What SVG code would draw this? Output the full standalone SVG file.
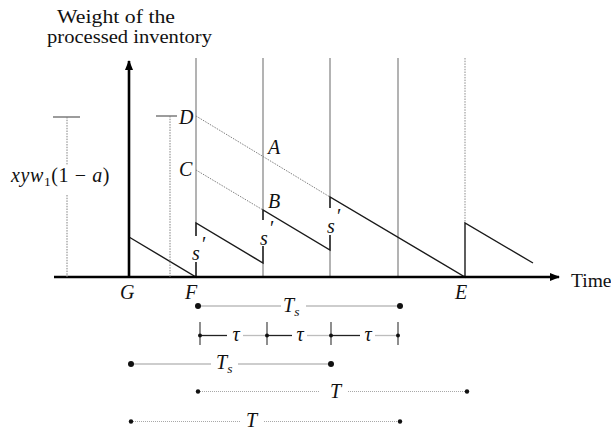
<svg xmlns="http://www.w3.org/2000/svg" width="611" height="430" viewBox="0 0 611 430">
<defs>
<marker id="arr" viewBox="0 0 10 8" refX="9" refY="4" markerWidth="10" markerHeight="8" markerUnits="userSpaceOnUse" orient="auto">
<path d="M0,0 L10,4 L0,8 Z" fill="#000"/>
</marker>
<style>
.axis{stroke:#000;stroke-width:2.6;fill:none}
.grid{stroke:#8a8a8a;stroke-width:1.3;fill:none}
.gridd{stroke:#8a8a8a;stroke-width:1;stroke-dasharray:1.5 1.2;fill:none}
.saw{stroke:#1a1a1a;stroke-width:1.4;fill:none}
.dl{stroke:#808080;stroke-width:1;stroke-dasharray:1.5 1.2;fill:none}
.tick{stroke:#666;stroke-width:1.3;fill:none}
.dim{stroke:#bdbdbd;stroke-width:1.3;fill:none}
.dimd{stroke:#a8a8a8;stroke-width:1;stroke-dasharray:1 1;fill:none}
.blk{stroke:#222;stroke-width:1.3;fill:none}
.vt{stroke:#444;stroke-width:1.2;fill:none}
.m{font-family:"Liberation Serif","DejaVu Serif",serif;font-style:italic;font-size:20px;fill:#111}
.r{font-family:"Liberation Serif","DejaVu Serif",serif;font-size:19.5px;fill:#111}
.sub{font-size:13.5px}
</style>
</defs>
<rect width="611" height="430" fill="#fff"/>

<g id="title">
<text class="r" x="57" y="23" textLength="118" lengthAdjust="spacingAndGlyphs">Weight of the</text>
<text class="r" x="47" y="43" textLength="165" lengthAdjust="spacingAndGlyphs">processed inventory</text>
</g>

<g id="grid">
<line class="grid" x1="196" y1="58" x2="196" y2="277"/>
<line class="grid" x1="263" y1="58" x2="263" y2="277"/>
<line class="grid" x1="330" y1="58" x2="330" y2="277"/>
<line class="grid" x1="398" y1="58" x2="398" y2="277"/>
<line class="gridd" x1="465" y1="58" x2="465" y2="223"/>
</g>

<g id="dotted-paths">
<line class="dl" x1="196" y1="116" x2="330" y2="197"/>
<line class="dl" x1="196" y1="170" x2="263" y2="210"/>
</g>

<g id="sawtooth">
<polyline class="saw" points="129,237 196,277 196,223 263,263 263,210 330,250 330,197 465,277 465,223 533,263"/>
</g>

<g id="s-labels">
<rect x="189" y="236" width="17" height="26" fill="#fff"/>
<rect x="256" y="220" width="18" height="26" fill="#fff"/>
<rect x="323" y="208" width="18" height="27" fill="#fff"/>
<text class="m" x="196" y="260" text-anchor="middle">s</text>
<text class="m" x="203" y="251" text-anchor="middle">′</text>
<text class="m" x="264" y="245" text-anchor="middle">s</text>
<text class="m" x="271" y="235" text-anchor="middle">′</text>
<text class="m" x="331" y="233" text-anchor="middle">s</text>
<text class="m" x="338" y="223" text-anchor="middle">′</text>
</g>

<g id="axes">
<line class="axis" x1="54" y1="277" x2="559" y2="277" marker-end="url(#arr)"/>
<line class="axis" x1="129" y1="278" x2="129" y2="61" marker-end="url(#arr)"/>
<text class="r" x="571" y="287" font-size="20.5px">Time</text>
</g>

<g id="left-annot">
<line class="tick" x1="53" y1="117" x2="80" y2="117"/>
<line class="dl" x1="67" y1="117" x2="67" y2="165"/>
<line class="dl" x1="67" y1="195" x2="67" y2="277"/>
<text class="m" x="11" y="182" font-size="21px" letter-spacing="0.6">xyw<tspan class="sub" font-style="normal" dy="4">1</tspan><tspan font-style="normal" dy="-4">(1 − </tspan>a<tspan font-style="normal">)</tspan></text>
<line class="tick" x1="156" y1="116" x2="177" y2="116"/>
<line class="dl" x1="170" y1="116" x2="170" y2="277"/>
</g>

<g id="point-labels">
<text class="m" x="179" y="124">D</text>
<text class="m" x="179" y="176">C</text>
<text class="m" x="268" y="154">A</text>
<text class="m" x="268" y="208">B</text>
<text class="m" x="120" y="299">G</text>
<text class="m" x="185" y="299">F</text>
<text class="m" x="455" y="299">E</text>
</g>

<g id="dimensions">
<line class="dim" x1="198" y1="306" x2="281" y2="306"/>
<line class="dim" x1="306" y1="306" x2="400" y2="306"/>
<circle cx="198" cy="306" r="3" fill="#111"/>
<circle cx="400" cy="306" r="3" fill="#111"/>
<text class="m" x="283" y="312">T<tspan class="sub" dy="4">s</tspan></text>
<line class="vt" x1="200" y1="322" x2="200" y2="345"/>
<line class="vt" x1="267" y1="322" x2="267" y2="345"/>
<line class="vt" x1="331" y1="322" x2="331" y2="345"/>
<line class="vt" x1="398" y1="322" x2="398" y2="345"/>
<line class="blk" x1="200" y1="335.5" x2="227" y2="335.5"/>
<line class="dim" x1="243" y1="335.5" x2="267" y2="335.5"/>
<line class="blk" x1="267" y1="335.5" x2="292" y2="335.5"/>
<line class="dim" x1="307" y1="335.5" x2="331" y2="335.5"/>
<line class="blk" x1="331" y1="335.5" x2="360" y2="335.5"/>
<line class="dim" x1="375" y1="335.5" x2="398" y2="335.5"/>
<circle cx="200" cy="335.5" r="2" fill="#111"/>
<circle cx="267" cy="335.5" r="2" fill="#111"/>
<circle cx="331" cy="335.5" r="2" fill="#111"/>
<circle cx="398" cy="335.5" r="2" fill="#111"/>
<text class="m" x="236" y="341" text-anchor="middle">τ</text>
<text class="m" x="300" y="341" text-anchor="middle">τ</text>
<text class="m" x="368" y="341" text-anchor="middle">τ</text>
<line class="dim" x1="131" y1="364" x2="211" y2="364"/>
<line class="dim" x1="238" y1="364" x2="331" y2="364"/>
<circle cx="131" cy="364" r="3" fill="#111"/>
<circle cx="331" cy="364" r="3" fill="#111"/>
<text class="m" x="216" y="369">T<tspan class="sub" dy="4">s</tspan></text>
<line class="dimd" x1="198" y1="391.5" x2="320" y2="391.5"/>
<line class="dimd" x1="348" y1="391.5" x2="467" y2="391.5"/>
<circle cx="198" cy="391.5" r="2.2" fill="#111"/>
<circle cx="467" cy="391.5" r="2.2" fill="#111"/>
<text class="m" x="330" y="398">T</text>
<line class="dimd" x1="131" y1="421.5" x2="240" y2="421.5"/>
<line class="dimd" x1="264" y1="421.5" x2="400" y2="421.5"/>
<circle cx="131" cy="421.5" r="2.2" fill="#111"/>
<circle cx="400" cy="421.5" r="2.2" fill="#111"/>
<text class="m" x="246" y="427">T</text>
</g>
</svg>
